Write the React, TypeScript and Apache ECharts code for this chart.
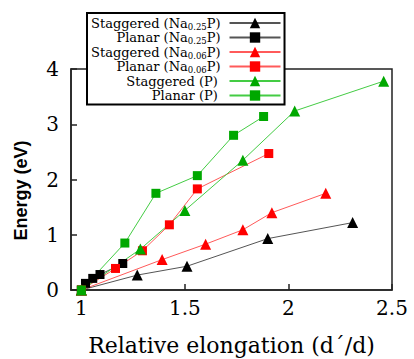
import React, { useEffect, useRef } from "react";
import * as echarts from "echarts";

const seriesNames = [
  "Staggered (Na0.25P)",
  "Planar (Na0.25P)",
  "Staggered (Na0.06P)",
  "Planar (Na0.06P)",
  "Staggered (P)",
  "Planar (P)",
];

const legendRich: Record<string, string> = {
  "Staggered (Na0.25P)": "{t|Staggered (Na}{s|0.25}{t|P)}",
  "Planar (Na0.25P)": "{t|Planar (Na}{s|0.25}{t|P)}",
  "Staggered (Na0.06P)": "{t|Staggered (Na}{s|0.06}{t|P)}",
  "Planar (Na0.06P)": "{t|Planar (Na}{s|0.06}{t|P)}",
  "Staggered (P)": "{t|Staggered (P)}{s| }",
  "Planar (P)": "{t|Planar (P)}{s| }",
};

const staggeredNa025: number[][] = [[1, 0], [1.27, 0.27], [1.51, 0.43], [1.9, 0.93], [2.31, 1.22]];
const planarNa025: number[][] = [[1, 0], [1.02, 0.12], [1.055, 0.21], [1.09, 0.28], [1.2, 0.48]];
const staggeredNa006: number[][] = [[1, 0], [1.39, 0.55], [1.6, 0.83], [1.78, 1.09], [1.92, 1.4], [2.18, 1.75]];
const planarNa006: number[][] = [[1, 0], [1.165, 0.39], [1.295, 0.71], [1.425, 1.18], [1.56, 1.83], [1.905, 2.47]];
const staggeredP: number[][] = [[1, 0], [1.285, 0.74], [1.5, 1.44], [1.78, 2.35], [2.03, 3.24], [2.46, 3.78]];
const planarP: number[][] = [[1, 0], [1.21, 0.85], [1.36, 1.75], [1.56, 2.07], [1.735, 2.8], [1.88, 3.14]];

const xTicks = [1, 1.5, 2, 2.5];

const serif = "DejaVu Serif";
const sans = "Liberation Sans";

export default function App() {
  const ref = useRef<HTMLDivElement>(null);
  useEffect(() => {
    if (!ref.current) return;
    const chart = echarts.init(ref.current, undefined, { renderer: "svg" });
    const mk = (name: string, data: number[][], symbol: string, size: number, lineColor: string, markColor: string) => ({
      name,
      type: "line",
      data,
      symbol,
      symbolSize: size,
      showSymbol: true,
      clip: false,
      lineStyle: { color: lineColor, width: 1 },
      itemStyle: { color: markColor },
      emphasis: { disabled: true },
    });
    chart.setOption({
      animation: false,
      backgroundColor: "#fff",
      grid: {
        left: 71,
        right: 22,
        top: 69,
        bottom: 69,
        show: true,
        borderColor: "#222",
        borderWidth: 1.5,
        containLabel: false,
        outerBoundsMode: "none",
      },
      legend: {
        orient: "vertical",
        align: "right",
        left: 87,
        top: 13,
        padding: [2, 3, 1, 4],
        itemGap: -1.5,
        itemWidth: 51,
        itemHeight: 13,
        backgroundColor: "#fff",
        borderColor: "#000",
        borderWidth: 2,
        selectedMode: false,
        data: seriesNames,
        formatter: (name: string) => legendRich[name] || name,
        textStyle: {
          fontFamily: serif,
          fontSize: 13,
          lineHeight: 14,
          color: "#000",
          padding: [0, 4, 0, 0],
          rich: {
            t: { fontFamily: serif, fontSize: 13, lineHeight: 14, color: "#000" },
            s: { fontFamily: serif, fontSize: 8.5, lineHeight: 6, padding: [7, 0, 0, 0], color: "#000" },
          },
        },
      },
      xAxis: {
        type: "value",
        min: 0.95,
        max: 2.5,
        name: "Relative elongation (d\u00B4/d)",
        nameLocation: "middle",
        nameGap: 44,
        nameTextStyle: { fontFamily: serif, fontSize: 22, color: "#000" },
        axisLine: { show: true, lineStyle: { color: "#222", width: 1.5 } },
        axisTick: { show: true, inside: true, length: 6, customValues: xTicks, lineStyle: { color: "#222", width: 1.5 } },
        axisLabel: {
          customValues: xTicks,
          fontFamily: serif,
          fontSize: 20,
          color: "#000",
          margin: 8,
          formatter: (v: number) => String(v),
        },
        splitLine: { show: false },
      },
      yAxis: {
        type: "value",
        min: 0,
        max: 4,
        interval: 1,
        name: "Energy (eV)",
        nameLocation: "middle",
        nameGap: 41,
        nameTextStyle: {
          fontFamily: sans,
          fontWeight: "bold",
          fontSize: 18,
          color: "#000",
          padding: [0, 22, 0, 0],
        },
        axisLine: { show: true, lineStyle: { color: "#222", width: 1.5 } },
        axisTick: { show: true, inside: true, length: 6, lineStyle: { color: "#222", width: 1.5 } },
        axisLabel: { fontFamily: serif, fontSize: 20, color: "#000", margin: 12 },
        splitLine: { show: false },
      },
      series: [
        mk(seriesNames[0], staggeredNa025, "triangle", 11, "#555555", "#000000"),
        mk(seriesNames[1], planarNa025, "rect", 9, "#555555", "#000000"),
        mk(seriesNames[2], staggeredNa006, "triangle", 11, "#ff5a5a", "#ff0000"),
        mk(seriesNames[3], planarNa006, "rect", 9, "#ff5a5a", "#ff0000"),
        mk(seriesNames[4], staggeredP, "triangle", 11, "#44cc44", "#00a800"),
        mk(seriesNames[5], planarP, "rect", 9, "#44cc44", "#00a800"),
      ],
    });
    return () => chart.dispose();
  }, []);
  return (
    <div
      ref={ref}
      style={{ position: "fixed", left: 0, top: 0, width: 414, height: 359, background: "#fff" }}
    />
  );
}
